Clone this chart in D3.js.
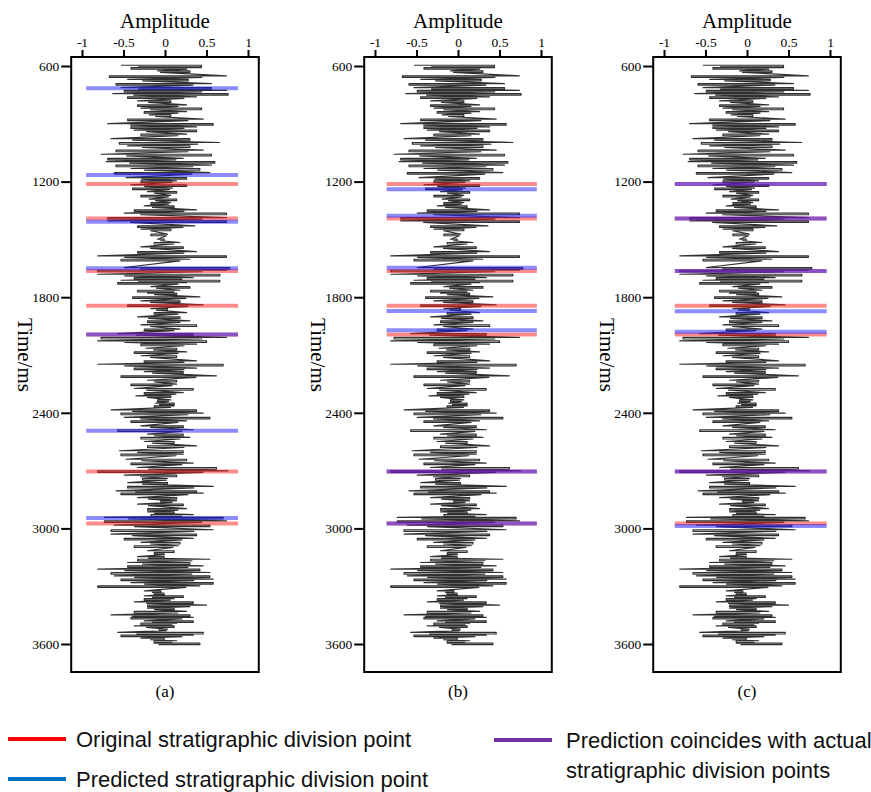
<!DOCTYPE html>
<html>
<head>
<meta charset="utf-8">
<script src="https://cdn.jsdelivr.net/npm/d3@7"></script>
<style>
  html, body { margin: 0; padding: 0; background: #fff; }
  svg { display: block; }
</style>
</head>
<body>
<svg id="chart" width="871" height="792"></svg>
<script>
// Seismic trace: time of each swing (ms) with its left and right amplitude extremes
const traceTime = [600,612,629,655,673,695,716,730,747,764,785,806,823,841,858,880,903,920,937,958,981,1001,1019,1041,1062,1083,1100,1119,1136,1157,1183,1200,1221,1238,1256,1275,1295,1313,1330,1351,1368,1391,1408,1434,1451,1477,1503,1520,1543,1567,1589,1607,1650,1664,1685,1702,1716,1728,1749,1768,1783,1802,1823,1844,1863,1884,1906,1927,1948,1970,1993,2013,2031,2048,2069,2088,2108,2134,2152,2172,2190,2212,2235,2255,2278,2299,2316,2337,2354,2368,2389,2406,2428,2446,2472,2492,2515,2532,2553,2576,2601,2619,2645,2665,2688,2705,2728,2745,2766,2786,2809,2821,2844,2861,2878,2901,2918,2933,2947,2965,2987,3011,3034,3056,3077,3094,3120,3132,3150,3164,3181,3198,3215,3233,3250,3267,3285,3302,3328,3340,3354,3368,3385,3402,3418,3435,3453,3466,3484,3496,3510,3527,3544,3558,3574,3587,3599];
const traceLeft = [-0.53,-0.41,-0.09,-0.67,-0.45,-0.59,-0.53,-0.49,-0.63,-0.45,-0.33,-0.33,-0.29,-0.25,-0.19,-0.45,-0.69,-0.41,-0.37,-0.29,-0.65,-0.55,-0.45,-0.59,-0.77,-0.69,-0.71,-0.59,-0.41,-0.61,-0.47,-0.29,-0.41,-0.39,-0.21,-0.29,-0.19,-0.17,-0.25,-0.37,-0.49,-0.69,-0.69,-0.33,-0.29,-0.17,-0.09,-0.13,-0.29,-0.33,-0.81,-0.53,-0.49,-0.81,-0.81,-0.37,-0.53,-0.57,-0.17,-0.33,-0.21,-0.39,-0.29,-0.45,-0.17,-0.13,-0.33,-0.21,-0.29,-0.25,-0.57,-0.77,-0.81,-0.29,-0.23,-0.37,-0.29,-0.25,-0.81,-0.37,-0.25,-0.53,-0.21,-0.41,-0.37,-0.25,-0.35,-0.09,-0.11,-0.13,-0.65,-0.53,-0.49,-0.41,-0.29,-0.57,-0.21,-0.29,-0.25,-0.21,-0.55,-0.53,-0.47,-0.41,-0.33,-0.81,-0.49,-0.27,-0.45,-0.45,-0.59,-0.53,-0.33,-0.05,-0.33,-0.21,-0.21,-0.17,-0.73,-0.73,-0.61,-0.65,-0.65,-0.49,-0.29,-0.37,-0.21,-0.13,-0.33,-0.33,-0.45,-0.45,-0.81,-0.65,-0.61,-0.53,-0.41,-0.81,-0.25,-0.13,-0.25,-0.25,-0.37,-0.21,-0.21,-0.37,-0.65,-0.41,-0.25,-0.29,-0.37,-0.07,-0.57,-0.53,-0.29,-0.13,-0.13];
const traceRight = [0.44,0.44,0.30,0.74,0.28,0.56,0.56,0.74,0.76,0.38,0.07,0.26,0.44,0.26,0.07,0.46,0.58,0.38,0.38,0.26,0.30,0.66,0.30,0.46,0.56,0.22,0.60,0.56,0.42,0.54,0.26,0.14,0.26,0.09,0.14,0.07,0.14,0.07,0.11,0.38,0.74,0.74,0.74,0.36,0.07,0.03,-0.01,0.18,0.22,0.38,0.74,0.30,0.78,0.74,0.66,0.34,0.66,0.26,0.30,0.18,0.14,0.42,0.18,0.46,0.03,0.26,0.18,0.30,0.38,0.18,0.34,0.74,0.50,0.38,0.14,0.26,0.14,0.38,0.70,0.38,0.22,0.62,0.14,0.14,0.34,0.22,0.07,0.07,0.11,0.11,0.38,0.46,0.54,0.26,0.22,0.34,0.22,0.30,0.11,0.38,0.22,0.22,0.26,0.34,0.62,0.76,0.14,0.03,0.03,0.58,0.38,0.46,0.14,0.14,0.22,0.26,0.11,0.34,0.70,0.74,0.54,0.58,0.38,0.34,0.18,0.16,0.11,-0.01,-0.01,0.54,0.30,0.46,0.42,0.54,0.54,0.58,0.58,0.42,-0.05,-0.01,0.22,0.11,0.34,0.50,0.11,0.26,0.30,0.34,0.34,0.14,0.11,0.03,0.46,0.34,-0.01,0.14,0.42];

// Stratigraphic division points (ms)
const originalPoints = [1212, 1392, 1664, 1844, 1993, 2705, 2975];
const predictedA = [716, 1166, 1408, 1650, 1993, 2493, 2946];
const predictedB = [1240, 1377, 1647, 1871, 1972, 2705, 2975];
const predictedC = [1212, 1392, 1664, 1873, 1979, 2705, 2988];

// Axis ticks
const amplitudeTicks = [-1, -0.5, 0, 0.5, 1];
const timeTicks = [600, 1200, 1800, 2400, 3000, 3600];

const panelLabels = ["(a)", "(b)", "(c)"];
const legendLabels = [
  ["Original stratigraphic division point"],
  ["Predicted stratigraphic division point"],
  ["Prediction coincides with actual", "stratigraphic division points"]
];

// Layout
const panels = [
  { label: panelLabels[0], zero: 165, predicted: predictedA, mark: [-0.95, 0.88] },
  { label: panelLabels[1], zero: 458, predicted: predictedB, mark: [-0.86, 0.95] },
  { label: panelLabels[2], zero: 747, predicted: predictedC, mark: [-0.87, 0.96] }
];
const unit = 83;           // px per amplitude unit
const frameHalf = 1.13;    // frame half width in amplitude units
const frameTop = 57, frameBottom = 672;

const serif = "'Liberation Serif', 'Times New Roman', serif";
const sans = "'Liberation Sans', Arial, sans-serif";

const svg = d3.select("#chart");
svg.append("rect").attr("width", 871).attr("height", 792).attr("fill", "#fff");

const y = d3.scaleLinear().domain([600, 3600]).range([66, 644]);

// Each swing is drawn as a narrow hairpin: across, turn, and back
const tracePoints = [];
const dt = 4;
traceTime.forEach((t, i) => {
  const a = traceLeft[i], b = traceRight[i];
  if (i % 2 === 0) {
    tracePoints.push([a, t - dt], [b, t - dt], [b, t + dt], [a * 0.6, t + dt]);
  } else {
    tracePoints.push([b, t - dt], [a, t - dt], [a, t + dt], [b * 0.6, t + dt]);
  }
});

panels.forEach(p => {
  const x = d3.scaleLinear().domain([-1, 1]).range([p.zero - unit, p.zero + unit]);
  const g = svg.append("g");
  const fl = x(-frameHalf), fr = x(frameHalf);

  // wiggle trace
  const line = d3.line().x(d => x(d[0])).y(d => y(d[1]));
  g.append("path")
    .datum(tracePoints)
    .attr("d", line)
    .attr("fill", "none")
    .attr("stroke", "#303030")
    .attr("stroke-width", 1.2)
    .attr("stroke-linejoin", "round");

  // division markers (translucent: overlapping red + blue reads as purple)
  const markerLayer = g.append("g");
  markerLayer.selectAll("line.orig").data(originalPoints).join("line")
    .attr("class", "orig")
    .attr("x1", x(p.mark[0])).attr("x2", x(p.mark[1]))
    .attr("y1", d => y(d)).attr("y2", d => y(d))
    .attr("stroke", "#ff1a1a").attr("stroke-opacity", 0.5).attr("stroke-width", 4);
  markerLayer.selectAll("line.pred").data(p.predicted).join("line")
    .attr("class", "pred")
    .attr("x1", x(p.mark[0])).attr("x2", x(p.mark[1]))
    .attr("y1", d => y(d)).attr("y2", d => y(d))
    .attr("stroke", "#1a1aff").attr("stroke-opacity", 0.5).attr("stroke-width", 4);

  // frame
  g.append("rect")
    .attr("x", fl).attr("y", frameTop)
    .attr("width", fr - fl).attr("height", frameBottom - frameTop)
    .attr("fill", "none").attr("stroke", "#000").attr("stroke-width", 2);

  // top amplitude axis
  const topAxis = d3.axisTop(x).tickValues(amplitudeTicks)
    .tickFormat(d => String(d))
    .tickSize(7).tickPadding(3);
  const ta = g.append("g").attr("transform", `translate(0,${frameTop})`).call(topAxis);
  ta.select(".domain").remove();
  ta.selectAll(".tick line").attr("stroke", "#000").attr("stroke-width", 2);
  ta.selectAll(".tick text").attr("font-family", serif).attr("font-size", 13.5).attr("fill", "#000");

  g.append("text")
    .attr("x", p.zero).attr("y", 28)
    .attr("text-anchor", "middle")
    .attr("font-family", serif).attr("font-size", 21)
    .text("Amplitude");

  // left time axis
  const leftAxis = d3.axisLeft(y).tickValues(timeTicks)
    .tickFormat(d3.format("d")).tickSize(10).tickPadding(2);
  const la = g.append("g").attr("transform", `translate(${fl},0)`).call(leftAxis);
  la.select(".domain").remove();
  la.selectAll(".tick line").attr("stroke", "#000").attr("stroke-width", 2);
  la.selectAll(".tick text").attr("font-family", serif).attr("font-size", 13.5).attr("fill", "#000");

  g.append("text")
    .attr("transform", `translate(${fl - 46},${y(2100)}) rotate(90)`)
    .attr("text-anchor", "middle")
    .attr("dy", "0.35em")
    .attr("font-family", serif).attr("font-size", 21)
    .text("Time/ms");

  g.append("text")
    .attr("x", p.zero).attr("y", 697)
    .attr("text-anchor", "middle")
    .attr("font-family", serif).attr("font-size", 17)
    .text(p.label);
});

// Legend
const legendItems = [
  { color: "#ff0000", x: 8, y: 739, tx: 76, lines: legendLabels[0] },
  { color: "#0070c0", x: 8, y: 779, tx: 76, lines: legendLabels[1] },
  { color: "#7030a0", x: 494, y: 740, tx: 566, lines: legendLabels[2] }
];
const lg = svg.append("g");
legendItems.forEach(item => {
  lg.append("line")
    .attr("x1", item.x).attr("x2", item.x + 58)
    .attr("y1", item.y).attr("y2", item.y)
    .attr("stroke", item.color).attr("stroke-width", 4);
  const t = lg.append("text")
    .attr("font-family", sans).attr("font-size", 22).attr("fill", "#111");
  item.lines.forEach((s, k) => {
    t.append("tspan")
      .attr("x", item.tx)
      .attr("y", item.y + 8 + k * 30)
      .text(s);
  });
});
</script>
</body>
</html>
